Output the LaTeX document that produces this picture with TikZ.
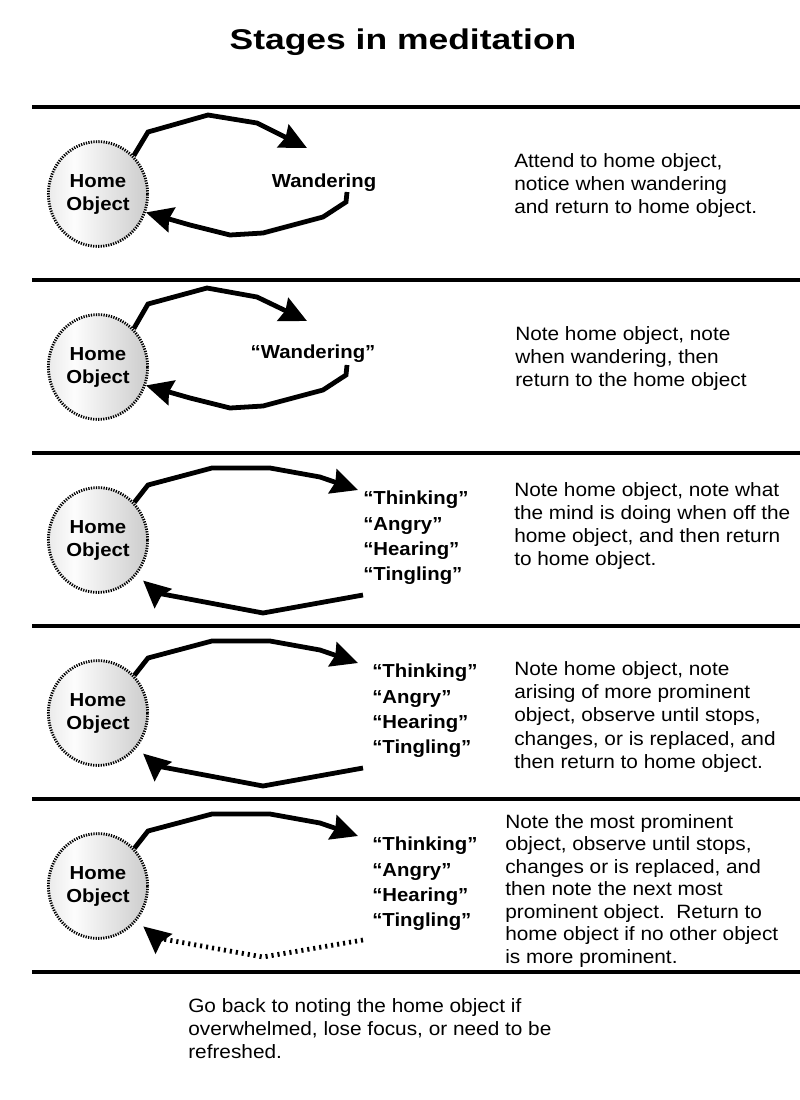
\documentclass[tikz,border=0pt]{standalone}
\usepackage{fontspec}
\setmainfont{Liberation Sans}[FakeStretch=1.08]
\usetikzlibrary{arrows.meta,shapes.geometric}
\pgfdeclarehorizontalshading{homeshade}{100bp}{color(0bp)=(gray!16); color(25bp)=(gray!16); color(38bp)=(gray!2); color(75bp)=(gray!40); color(100bp)=(gray!40)}

\begin{document}
\begin{tikzpicture}[x=0.025cm, y=-0.025cm,
    home/.style={ellipse, minimum width=2.48cm, minimum height=2.62cm, inner sep=0pt, draw=black, line width=2pt, dash pattern=on 0.9pt off 0.9pt, shade, shading=homeshade, align=center, font=\fontsize{13.4}{16.4}\selectfont\bfseries},
    cue/.style={inner sep=0pt, font=\fontsize{13.4}{16.4}\selectfont\bfseries},
    cues/.style={anchor=north west, inner sep=0pt, align=left, font=\fontsize{13.4}{18}\selectfont\bfseries},
    note/.style={anchor=north west, inner sep=0pt, align=left, font=\fontsize{13.7}{16.4}\selectfont},
    flow/.style={line width=3.4pt, -{Stealth[length=19pt, width=18pt, inset=2pt]}},
    rule/.style={line width=3.5pt}]

    \useasboundingbox[fill=white] (0,0) rectangle (800,1100);

    \node[font=\fontsize{20.3}{24}\selectfont\bfseries] (title) at (403,42.5) {\scalebox{1.15}[1]{Stages in meditation}};

    \draw[rule] (32,107) -- (800,107);
    \draw[rule] (32,280) -- (800,280);
    \draw[rule] (32,453) -- (800,453);
    \draw[rule] (32,626) -- (800,626);
    \draw[rule] (32,799) -- (800,799);
    \draw[rule] (32,972) -- (800,972);

    \node[home] (home1) at (98,194) {Home\\Object};
    \node[cue, anchor=base] (wander1) at (324,187) {Wandering};
    \coordinate (go1) at (307,148);
    \coordinate (back1) at (347,192);
    \draw[flow] (home1.47) -- (148,132) -- (208,115) -- (257,123) -- (go1);
    \draw[flow] (back1) -- (346,202) -- (323,217) -- (263,233) -- (230,235) -- (190,225) -- (home1.-21);
    \node[note] (note1) at (514,153) {Attend to home object,\\notice when wandering\\and return to home object.};

    \begin{scope}[shift={(0,173)}]
    \node[home] (home2) at (98,194) {Home\\Object};
    \node[cue, anchor=base] (wander2) at (313,185) {“Wandering”};
    \coordinate (go2) at (307,148);
    \coordinate (back2) at (347,192);
    \draw[flow] (home2.47) -- (148,131) -- (207,115) -- (257,124) -- (go2);
    \draw[flow] (back2) -- (346,202) -- (323,217) -- (263,233) -- (230,235) -- (190,225) -- (home2.-21);
    \node[note] (note2) at (515,153) {Note home object, note\\when wandering, then\\return to the home object};
    \end{scope}

    \begin{scope}[shift={(0,346)}]
    \node[home] (home3) at (98,194) {Home\\Object};
    \node[cues] (cues3) at (363,145) {“Thinking”\\“Angry”\\“Hearing”\\“Tingling”};
    \coordinate (go3) at (358,144);
    \coordinate (back3) at (363,249);
    \draw[flow] (home3.46) -- (148,139) -- (212,122) -- (270,122) -- (320,131) -- (go3);
    \draw[flow, shorten >=6pt] (back3) -- (263,267) -- (157,247) -- (home3.-42);
    \node[note] (note3) at (514,136) {Note home object, note what\\the mind is doing when off the\\home object, and then return\\to home object.};
    \end{scope}

    \begin{scope}[shift={(0,519)}]
    \node[home] (home4) at (98,194) {Home\\Object};
    \node[cues] (cues4) at (372,145) {“Thinking”\\“Angry”\\“Hearing”\\“Tingling”};
    \coordinate (go4) at (358,144);
    \coordinate (back4) at (363,249);
    \draw[flow] (home4.46) -- (148,139) -- (212,122) -- (270,122) -- (320,131) -- (go4);
    \draw[flow, shorten >=6pt] (back4) -- (263,267) -- (157,247) -- (home4.-42);
    \node[note, font=\fontsize{13.7}{16.6}\selectfont] (note4) at (514,142) {Note home object, note\\arising of more prominent\\object, observe until stops,\\changes, or is replaced, and\\then return to home object.};
    \end{scope}

    \begin{scope}[shift={(0,692)}]
    \node[home] (home5) at (98,194) {Home\\Object};
    \node[cues] (cues5) at (372,145) {“Thinking”\\“Angry”\\“Hearing”\\“Tingling”};
    \coordinate (go5) at (358,144);
    \coordinate (back5) at (363,248);
    \draw[flow] (home5.46) -- (148,139) -- (212,122) -- (270,122) -- (320,131) -- (go5);
    \draw[flow, dash pattern=on 1.5pt off 2.8pt, shorten >=6pt] (back5) -- (263,265) -- (157,246) -- (home5.-42);
    \node[note, font=\fontsize{13.7}{16}\selectfont] (note5) at (505,122) {Note the most prominent\\object, observe until stops,\\changes or is replaced, and\\then note the next most\\prominent object.\ \ Return to\\home object if no other object\\is more prominent.};
    \end{scope}

    \node[note] (advice) at (188,998) {Go back to noting the home object if\\overwhelmed, lose focus, or need to be\\refreshed.};
\end{tikzpicture}
\end{document}
